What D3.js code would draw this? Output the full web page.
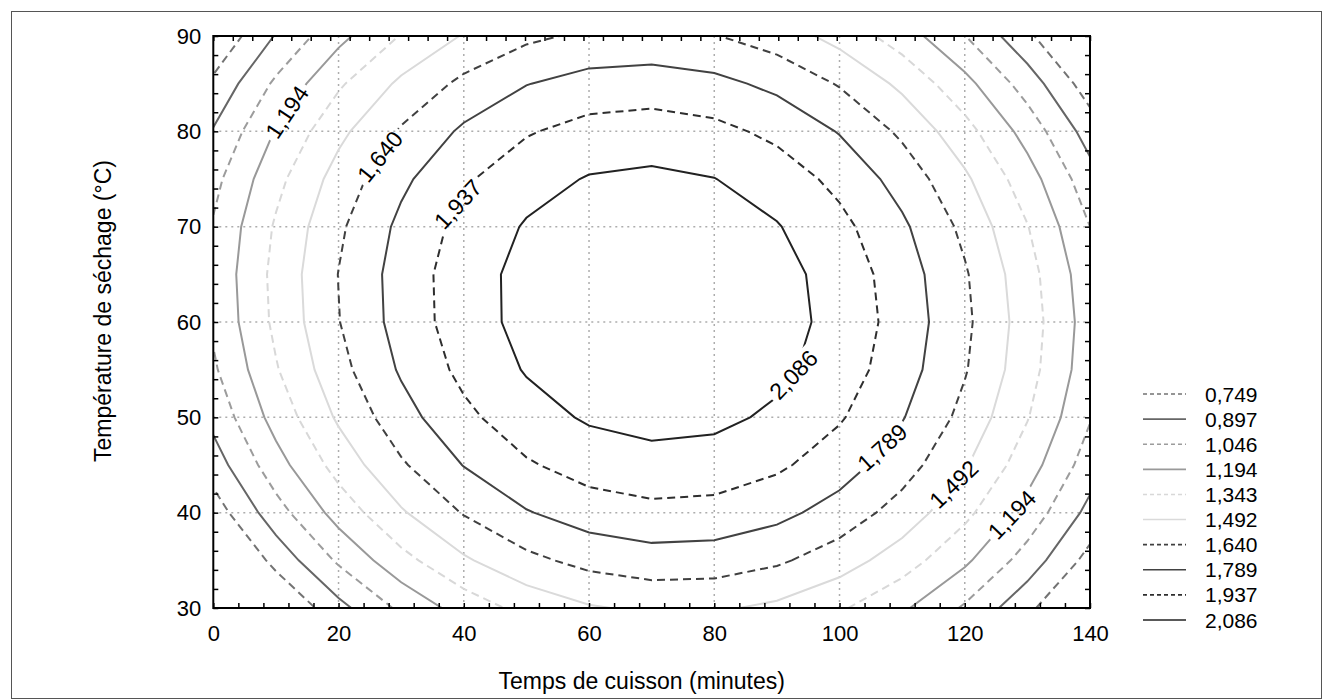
<!DOCTYPE html>
<html>
<head>
<meta charset="utf-8">
<script src="https://cdn.jsdelivr.net/npm/d3@7"></script>
<style>
  body { margin: 0; background: #fff; }
  text { font-family: Arial, "Liberation Sans", sans-serif; fill: #000; }
</style>
</head>
<body>
<div id="chart"></div>
<script>
// grid of the fitted response
const times = [0, 10, 20, 30, 40, 50, 60, 70, 80, 90, 100, 110, 120, 130, 140];
const temps = [30, 35, 40, 45, 50, 55, 60, 65, 70, 75, 80, 85, 90];

// one row per temperature (30 -> 90), one value per time
const surface = [
  [0.259, 0.578, 0.851, 1.077, 1.257, 1.391, 1.478, 1.519, 1.513, 1.461, 1.363, 1.218, 1.027, 0.789, 0.505],
  [0.482, 0.799, 1.069, 1.294, 1.471, 1.602, 1.687, 1.726, 1.718, 1.664, 1.563, 1.416, 1.222, 0.982, 0.696],
  [0.670, 0.985, 1.253, 1.475, 1.650, 1.779, 1.862, 1.898, 1.887, 1.831, 1.728, 1.578, 1.382, 1.140, 0.852],
  [0.823, 1.135, 1.401, 1.621, 1.794, 1.920, 2.001, 2.034, 2.022, 1.963, 1.858, 1.706, 1.507, 1.263, 0.972],
  [0.941, 1.251, 1.514, 1.732, 1.902, 2.026, 2.104, 2.136, 2.121, 2.060, 1.952, 1.798, 1.597, 1.351, 1.057],
  [1.024, 1.331, 1.592, 1.807, 1.976, 2.097, 2.173, 2.202, 2.185, 2.121, 2.011, 1.855, 1.652, 1.403, 1.107],
  [1.071, 1.376, 1.635, 1.848, 2.014, 2.133, 2.207, 2.233, 2.214, 2.148, 2.036, 1.877, 1.672, 1.420, 1.122],
  [1.083, 1.386, 1.643, 1.853, 2.016, 2.134, 2.205, 2.229, 2.207, 2.139, 2.025, 1.863, 1.656, 1.402, 1.102],
  [1.060, 1.361, 1.615, 1.823, 1.984, 2.099, 2.168, 2.190, 2.166, 2.095, 1.978, 1.815, 1.605, 1.349, 1.046],
  [1.002, 1.300, 1.552, 1.758, 1.917, 2.029, 2.096, 2.116, 2.089, 2.016, 1.897, 1.731, 1.519, 1.261, 0.956],
  [0.908, 1.204, 1.454, 1.657, 1.814, 1.924, 1.988, 2.006, 1.977, 1.902, 1.780, 1.612, 1.398, 1.137, 0.830],
  [0.780, 1.073, 1.321, 1.521, 1.676, 1.784, 1.846, 1.861, 1.830, 1.752, 1.628, 1.458, 1.241, 0.978, 0.669],
  [0.616, 0.907, 1.152, 1.351, 1.503, 1.609, 1.668, 1.681, 1.647, 1.568, 1.441, 1.269, 1.050, 0.784, 0.472]
];

const levels = [0.749, 0.897, 1.046, 1.194, 1.343, 1.492, 1.640, 1.789, 1.937, 2.086];
const levelNames = ["0,749", "0,897", "1,046", "1,194", "1,343", "1,492", "1,640", "1,789", "1,937", "2,086"];

// where the inline labels sit (time, temperature, angle)
const labelLevels = [3, 6, 8, 9, 7, 5, 3];
const labelTimes  = [11.6, 26.3, 39.0, 92.0, 106.5, 117.5, 127.0];
const labelTemps  = [82.1, 77.5, 72.4, 54.8, 47.0, 43.4, 40.1];
const labelAngles = [-56, -51, -47, -46, -42, -44, -46];

const xTicks = [0, 20, 40, 60, 80, 100, 120, 140];
const yTicks = [30, 40, 50, 60, 70, 80, 90];

// line look per level
const lineColors = ["#737373", "#666666", "#9c9c9c", "#999999", "#d8d8d8", "#dadada", "#404040", "#424242", "#2e2e2e", "#222222"];
const lineDashed = [true, false, true, false, true, false, true, false, true, false];

const W = 1323, H = 700;
const plot = { left: 213.3, right: 1090, top: 36, bottom: 608 };

const svg = d3.select("#chart").append("svg")
  .attr("width", W).attr("height", H);

// outer frame
svg.append("rect")
  .attr("x", 11.5).attr("y", 11.5)
  .attr("width", W - 13).attr("height", H - 13)
  .attr("fill", "none").attr("stroke", "#555").attr("stroke-width", 1);

const x = d3.scaleLinear().domain([0, 140]).range([plot.left, plot.right]);
const y = d3.scaleLinear().domain([30, 90]).range([plot.bottom, plot.top]);

// grid lines
const grid = svg.append("g")
  .attr("stroke", "#adadad").attr("stroke-width", 1.5).attr("stroke-dasharray", "2,4");
grid.selectAll(".gx").data(xTicks.slice(1, -1)).join("line")
  .attr("x1", d => x(d)).attr("x2", d => x(d))
  .attr("y1", plot.top).attr("y2", plot.bottom);
grid.selectAll(".gy").data(yTicks.slice(1, -1)).join("line")
  .attr("y1", d => y(d)).attr("y2", d => y(d))
  .attr("x1", plot.left).attr("x2", plot.right);

// contours
const n = times.length, m = temps.length;
const values = [];
for (let j = m - 1; j >= 0; j--) values.push(...surface[j]);

const contours = d3.contours().size([n, m]).thresholds(levels)(values);
const gx = d3.scaleLinear().domain([0.5, n - 0.5]).range([times[0], times[n - 1]]);
const gy = d3.scaleLinear().domain([0.5, m - 0.5]).range([temps[m - 1], temps[0]]);

const ringsPx = contours.map(c =>
  c.coordinates.flatMap(poly => poly.map(ring => ring.map(p => [x(gx(p[0])), y(gy(p[1]))])))
);

const defs = svg.append("defs");
defs.append("clipPath").attr("id", "plotClip")
  .append("rect")
  .attr("x", plot.left).attr("y", plot.top)
  .attr("width", plot.right - plot.left).attr("height", plot.bottom - plot.top);

// snap each label onto its own line
function nearest(rings, px, py) {
  let best = null;
  rings.forEach(r => {
    for (let i = 1; i < r.length; i++) {
      const [ax, ay] = r[i - 1], [bx, by] = r[i];
      const dx = bx - ax, dy = by - ay, L = dx * dx + dy * dy;
      let t = L ? ((px - ax) * dx + (py - ay) * dy) / L : 0;
      t = Math.max(0, Math.min(1, t));
      const qx = ax + t * dx, qy = ay + t * dy;
      const d = (qx - px) ** 2 + (qy - py) ** 2;
      if (!best || d < best.d) best = { d, x: qx, y: qy };
    }
  });
  return best;
}

const labels = labelLevels.map((li, i) => {
  const p = nearest(ringsPx[li], x(labelTimes[i]), y(labelTemps[i]));
  return { text: levelNames[li], x: p.x, y: p.y, angle: labelAngles[i] };
});

const mask = defs.append("mask").attr("id", "labelGaps")
  .attr("maskUnits", "userSpaceOnUse")
  .attr("x", 0).attr("y", 0).attr("width", W).attr("height", H);
mask.append("rect").attr("width", W).attr("height", H).attr("fill", "#fff");

const lineGen = d3.line();
const body = svg.append("g").attr("clip-path", "url(#plotClip)");
const lines = body.append("g").attr("mask", "url(#labelGaps)").attr("fill", "none");

contours.forEach((c, i) => {
  lines.append("g")
    .attr("stroke", lineColors[i])
    .attr("stroke-width", 2)
    .attr("stroke-dasharray", lineDashed[i] ? "8,5" : null)
    .selectAll("path").data(ringsPx[i]).join("path")
    .attr("d", lineGen);
});

const labelSel = body.append("g").selectAll("text").data(labels).join("text")
  .attr("transform", d => `translate(${d.x},${d.y}) rotate(${d.angle})`)
  .attr("text-anchor", "middle")
  .attr("dy", "0.36em")
  .attr("font-size", 23)
  .text(d => d.text);

labelSel.each(function (d) {
  const w = this.getComputedTextLength() + 8;
  mask.append("rect")
    .attr("x", -w / 2).attr("y", -12).attr("width", w).attr("height", 24)
    .attr("transform", `translate(${d.x},${d.y}) rotate(${d.angle})`)
    .attr("fill", "#000");
});

// axes, ticks pointing inside
const tickStyle = g => {
  g.select(".domain").remove();
  g.selectAll(".tick line").attr("stroke", "#000").attr("stroke-width", 1.5);
  g.selectAll(".tick text").attr("font-size", 22).attr("fill", "#000")
    .attr("font-family", "Arial, 'Liberation Sans', sans-serif");
};

svg.append("g").attr("transform", `translate(0,${plot.bottom})`)
  .call(d3.axisBottom(x).tickValues(d3.range(0, 141, 4)).tickSizeInner(-5).tickSizeOuter(0)
    .tickPadding(17).tickFormat(d => xTicks.includes(d) ? d : ""))
  .call(tickStyle);

svg.append("g").attr("transform", `translate(0,${plot.top})`)
  .call(d3.axisTop(x).tickValues(d3.range(0, 46).map(i => i * 140 / 45)).tickSizeInner(-5)
    .tickSizeOuter(0).tickFormat(""))
  .call(tickStyle);

svg.append("g").attr("transform", `translate(${plot.left},0)`)
  .call(d3.axisLeft(y).tickValues(d3.range(30, 91, 2)).tickSizeInner(-5).tickSizeOuter(0)
    .tickPadding(12).tickFormat(d => yTicks.includes(d) ? d : ""))
  .call(tickStyle);

svg.append("g").attr("transform", `translate(${plot.right},0)`)
  .call(d3.axisRight(y).tickValues(d3.range(30, 91, 2)).tickSizeInner(-5).tickSizeOuter(0)
    .tickFormat(""))
  .call(tickStyle);

svg.append("rect")
  .attr("x", plot.left).attr("y", plot.top)
  .attr("width", plot.right - plot.left).attr("height", plot.bottom - plot.top)
  .attr("fill", "none").attr("stroke", "#000").attr("stroke-width", 2);

// axis titles
svg.append("text")
  .attr("x", 641.7).attr("y", 689)
  .attr("text-anchor", "middle").attr("font-size", 23)
  .text("Temps de cuisson (minutes)");

svg.append("text")
  .attr("transform", "translate(111,311) rotate(-90)")
  .attr("text-anchor", "middle").attr("font-size", 23)
  .text("Température de séchage (°C)");

// legend
const legend = svg.append("g");
const row = d3.scaleLinear().domain([0, levels.length - 1]).range([394, 620]);
const items = legend.selectAll("g").data(levels).join("g")
  .attr("transform", (d, i) => `translate(0,${row(i)})`);
items.append("line")
  .attr("x1", 1143).attr("x2", 1186)
  .attr("stroke", (d, i) => lineColors[i])
  .attr("stroke-width", 1.6)
  .attr("stroke-dasharray", (d, i) => lineDashed[i] ? "4,3" : null);
items.append("text")
  .attr("x", 1205).attr("dy", "0.36em")
  .attr("font-size", 21)
  .text((d, i) => levelNames[i]);
</script>
</body>
</html>
